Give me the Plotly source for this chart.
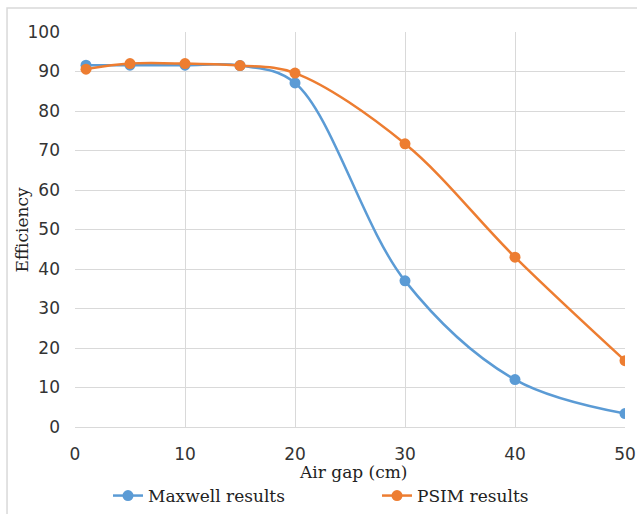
import plotly.graph_objects as go

air_gap = [1, 5, 10, 15, 20, 30, 40, 50]
maxwell = [91.6, 91.6, 91.6, 91.5, 87.1, 37.0, 12.0, 3.4]
psim = [90.6, 92.0, 92.0, 91.5, 89.6, 71.7, 43.0, 16.8]

x_ticks = [0, 10, 20, 30, 40, 50]
y_ticks = [0, 10, 20, 30, 40, 50, 60, 70, 80, 90, 100]

SERIF = "DejaVu Serif"
SANS = "DejaVu Sans"

fig = go.Figure()
fig.add_trace(go.Scatter(
    x=air_gap, y=maxwell, name="Maxwell results", mode="lines+markers",
    line=dict(color="#5b9bd5", width=2.5, shape="spline", smoothing=1.0),
    marker=dict(color="#5b9bd5", size=11)))
fig.add_trace(go.Scatter(
    x=air_gap, y=psim, name="PSIM results", mode="lines+markers",
    line=dict(color="#ed7d31", width=2.5, shape="spline", smoothing=1.0),
    marker=dict(color="#ed7d31", size=11)))

fig.update_layout(
    width=637, height=514,
    margin=dict(l=75, r=12, t=32, b=87, autoexpand=False),
    paper_bgcolor="white", plot_bgcolor="white",
    showlegend=True,
    legend=dict(orientation="h", xref="paper", yref="container",
                x=0.06, xanchor="left", y=0.035, yanchor="middle",
                font=dict(family=SERIF, size=17, color="#222"),
                entrywidthmode="pixels", entrywidth=224),
    font=dict(family=SANS, size=16, color="#333"),
)
fig.update_xaxes(range=[0, 50], tickvals=x_ticks, showgrid=True, gridcolor="#d9d9d9",
                 gridwidth=1, zeroline=False, showline=True, linecolor="#d9d9d9",
                 ticks="", automargin=False, ticklabelstandoff=12,
                 tickfont=dict(family=SANS, size=17, color="#333"))
fig.update_yaxes(range=[0, 100], tickvals=y_ticks, showgrid=True, gridcolor="#d9d9d9",
                 gridwidth=1, zeroline=False, showline=False, automargin=False,
                 ticks="", ticklabelstandoff=14,
                 tickfont=dict(family=SANS, size=17, color="#333"))
fig.add_annotation(text="Air gap (cm)", xref="paper", yref="paper",
                   x=0.505, y=-0.115, xanchor="center", yanchor="middle",
                   showarrow=False, font=dict(family=SERIF, size=17, color="#222"))
fig.add_annotation(text="Efficiency", xref="paper", yref="paper",
                   x=-0.0964, y=0.5, xanchor="center", yanchor="middle", textangle=-90,
                   showarrow=False, font=dict(family=SERIF, size=17, color="#222"))
fig.add_shape(type="rect", xref="paper", yref="paper", x0=-0.1236, x1=1.06,
              y0=-0.35, y1=1.0608, line=dict(color="#d9d9d9", width=1.5),
              fillcolor="rgba(0,0,0,0)", layer="below")
fig.write_html("out.html", config={"displayModeBar": False},
               post_script="document.body.style.margin='0';")
